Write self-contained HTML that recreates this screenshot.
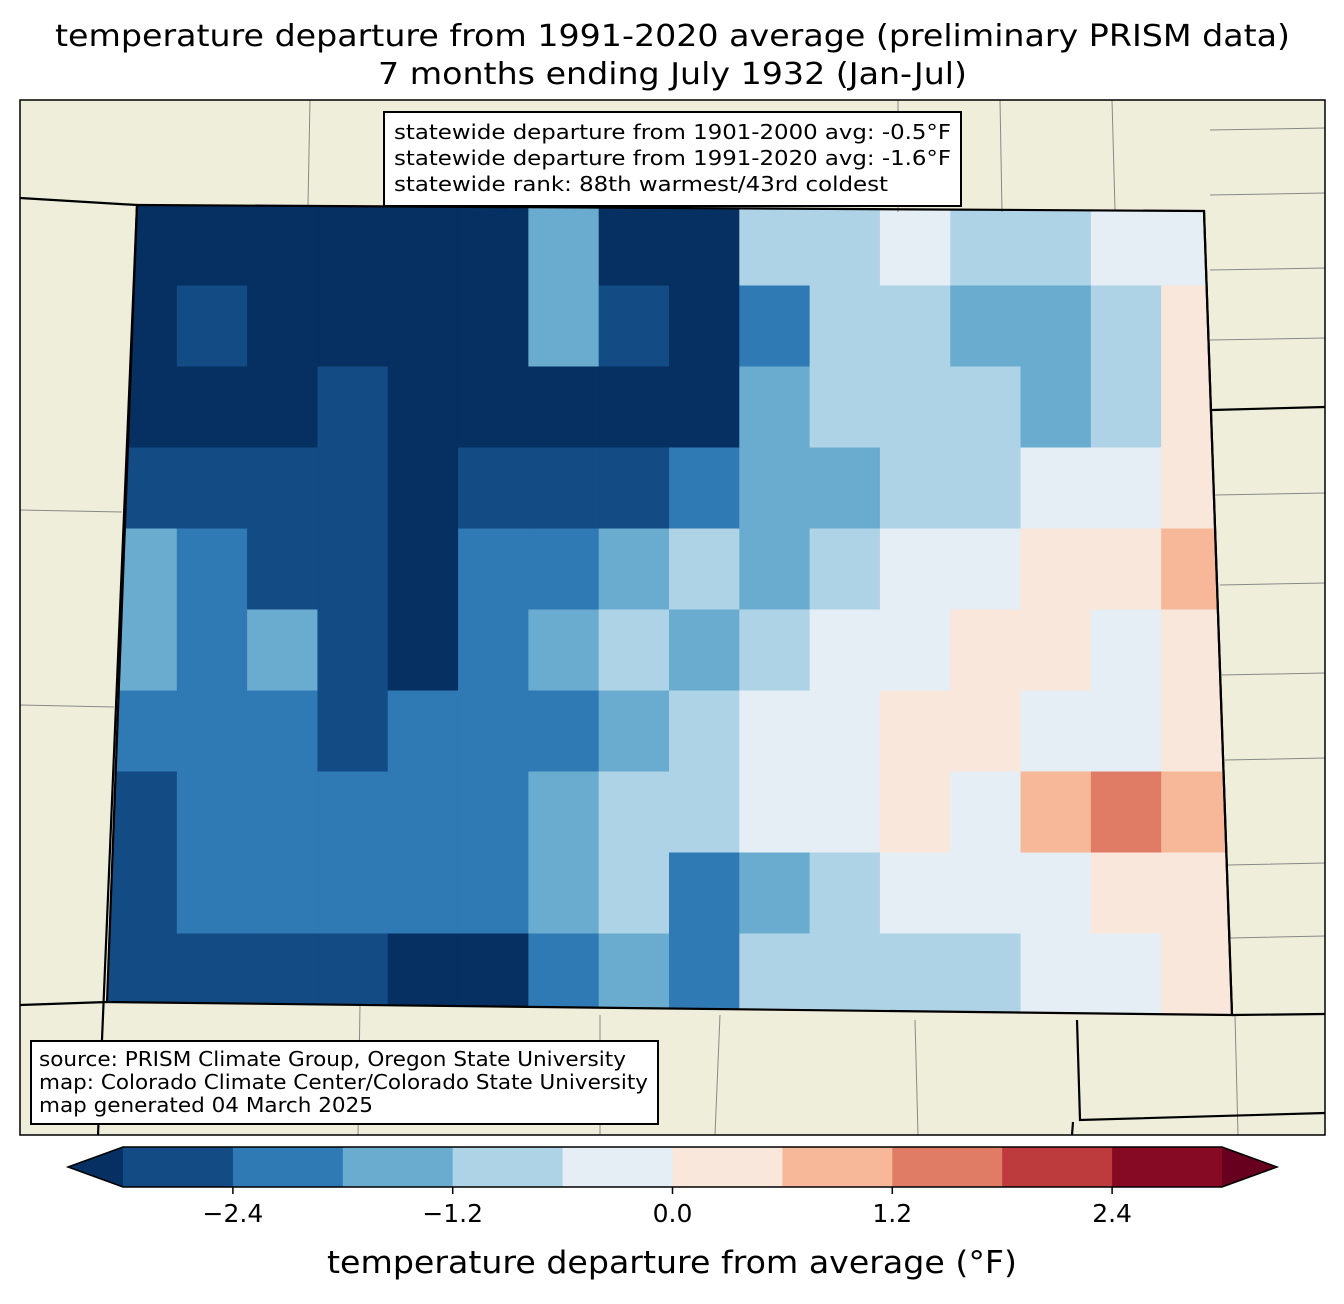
<!DOCTYPE html>
<html><head><meta charset="utf-8"><style>
html,body{margin:0;padding:0;background:#fff;}
body{width:1344px;height:1299px;overflow:hidden;font-family:"Liberation Sans","DejaVu Sans",sans-serif;}
</style></head><body>
<svg id="chart" width="1344" height="1299" xmlns="http://www.w3.org/2000/svg" font-family="DejaVu Sans, Liberation Sans, sans-serif">
<text x="55" y="46" font-size="30" textLength="1235" lengthAdjust="spacingAndGlyphs">temperature departure from 1991-2020 average (preliminary PRISM data)</text>
<text x="378" y="84" font-size="30" textLength="589" lengthAdjust="spacingAndGlyphs">7 months ending July 1932 (Jan-Jul)</text>
<defs><clipPath id="co"><polygon points="137,205 1204,211 1232,1015 107,1002"/></clipPath>
<clipPath id="frame"><rect x="20" y="100" width="1305" height="1035"/></clipPath></defs>
<rect x="20" y="100" width="1305" height="1035" fill="#efeedb"/>
<g id="cells" clip-path="url(#co)"></g>
<g clip-path="url(#frame)" stroke="#888" stroke-width="1" fill="none">
<path d="M20,510 L122,512 M20,705 L114,707 M310,100 L308,205 M898,100 L898,212 M1000,100 L1002,212 M1112,100 L1115,210 M1210,130 L1325,128 M1210,195 L1325,193 M1210,270 L1325,268 M1210,340 L1325,338 M1215,495 L1325,493 M1220,585 L1325,583 M1222,675 L1325,673 M1225,760 L1325,758 M1228,865 L1325,863 M1230,938 L1325,936 M360,1005 L358,1135 M600,1015 L600,1135 M915,1020 L918,1135 M1235,1015 L1238,1135 M720,1015 L715,1135"/>
</g>
<g clip-path="url(#frame)" stroke="#000" stroke-width="2.2" fill="none">
<path d="M20,198 L137,205 M107,1002 L20,1005 M137,205 L98,1135 M1204,211 L1232,1015 M1212,410 L1325,407 M1232,1015 L1325,1014 M1077,1020 L1080,1120 L1325,1113 M1073,1122 L1072,1135"/>
<polygon points="137,205 1204,211 1232,1015 107,1002"/>
</g>
<rect x="20" y="100" width="1305" height="1035" fill="none" stroke="#000" stroke-width="1.5"/>
<g>
<rect x="384" y="112" width="577" height="94" fill="#fff" stroke="#000" stroke-width="2"/>
<text x="394" y="139" font-size="20" textLength="557" lengthAdjust="spacingAndGlyphs">statewide departure from 1901-2000 avg: -0.5°F</text>
<text x="394" y="165" font-size="20" textLength="557" lengthAdjust="spacingAndGlyphs">statewide departure from 1991-2020 avg: -1.6°F</text>
<text x="394" y="191" font-size="20" textLength="494" lengthAdjust="spacingAndGlyphs">statewide rank: 88th warmest/43rd coldest</text>
</g>
<g>
<rect x="31" y="1041" width="627" height="83" fill="#fff" stroke="#000" stroke-width="2"/>
<text x="39" y="1066" font-size="20" textLength="587" lengthAdjust="spacingAndGlyphs">source: PRISM Climate Group, Oregon State University</text>
<text x="39" y="1089" font-size="20" textLength="609" lengthAdjust="spacingAndGlyphs">map: Colorado Climate Center/Colorado State University</text>
<text x="39" y="1112" font-size="20" textLength="334" lengthAdjust="spacingAndGlyphs">map generated 04 March 2025</text>
</g>
<g id="cbar"></g>
<text x="327" y="1273" font-size="31" textLength="690" lengthAdjust="spacingAndGlyphs">temperature departure from average (°F)</text>
</svg>
<script>
const levels=[-3,-2.4,-1.8,-1.2,-0.6,0,0.6,1.2,1.8,2.4,3];
const binColors=["#134b85","#2f79b5","#6aacd0","#afd3e6","#e4eef4","#fae7dc","#f7b799","#e07b65","#bd3a3d","#870a24"];
const extendColors=["#053061","#67001f"];
const tickValues=[-2.4,-1.2,0,1.2,2.4];
const tickLabels=["−2.4","−1.2","0.0","1.2","2.4"];
const gridRows=[
[-3.2,-3.2,-3.2,-3.2,-3.2,-3.2,-1.5,-3.2,-3.2,-0.9,-0.9,-0.3,-0.9,-0.9,-0.3,-0.3],
[-3.2,-2.7,-3.2,-3.2,-3.2,-3.2,-1.5,-2.7,-3.2,-2.1,-0.9,-0.9,-1.5,-1.5,-0.9,0.3],
[-3.2,-3.2,-3.2,-2.7,-3.2,-3.2,-3.2,-3.2,-3.2,-1.5,-0.9,-0.9,-0.9,-1.5,-0.9,0.3],
[-2.7,-2.7,-2.7,-2.7,-3.2,-2.7,-2.7,-2.7,-2.1,-1.5,-1.5,-0.9,-0.9,-0.3,-0.3,0.3],
[-1.5,-2.1,-2.7,-2.7,-3.2,-2.1,-2.1,-1.5,-0.9,-1.5,-0.9,-0.3,-0.3,0.3,0.3,0.9],
[-1.5,-2.1,-1.5,-2.7,-3.2,-2.1,-1.5,-0.9,-1.5,-0.9,-0.3,-0.3,0.3,0.3,-0.3,0.3],
[-2.1,-2.1,-2.1,-2.7,-2.1,-2.1,-2.1,-1.5,-0.9,-0.3,-0.3,0.3,0.3,-0.3,-0.3,0.3],
[-2.7,-2.1,-2.1,-2.1,-2.1,-2.1,-1.5,-0.9,-0.9,-0.3,-0.3,0.3,-0.3,0.9,1.5,0.9],
[-2.7,-2.1,-2.1,-2.1,-2.1,-2.1,-1.5,-0.9,-2.1,-1.5,-0.9,-0.3,-0.3,-0.3,0.3,0.3],
[-2.7,-2.7,-2.7,-2.7,-3.2,-3.2,-2.1,-1.5,-2.1,-0.9,-0.9,-0.9,-0.9,-0.3,-0.3,0.3]
];
const NS="http://www.w3.org/2000/svg";
function colorFor(v){
  if(v<levels[0]) return extendColors[0];
  if(v>=levels[levels.length-1]) return extendColors[1];
  for(let i=0;i<binColors.length;i++){ if(v<levels[i+1]) return binColors[i]; }
  return extendColors[1];
}
const gx0=107,gx1=1232,gy0=205,gy1=1015;
const cw=(gx1-gx0)/gridRows[0].length, ch=(gy1-gy0)/gridRows.length;
const cells=document.getElementById('cells');
gridRows.forEach((row,r)=>row.forEach((v,c)=>{
  const el=document.createElementNS(NS,'rect');
  
  
  el.setAttribute('x',gx0+c*cw-0.5);el.setAttribute('y',gy0+r*ch-0.5);
  el.setAttribute('width',cw+1);el.setAttribute('height',ch+1);
  el.setAttribute('fill',colorFor(v));
  cells.appendChild(el);
}));
const cbX0=123,cbX1=1222,cbY=1147,cbH=40;
const xs=v=>cbX0+(v-levels[0])/(levels[levels.length-1]-levels[0])*(cbX1-cbX0);
const cb=document.getElementById('cbar');
binColors.forEach((col,i)=>{
  const el=document.createElementNS(NS,'rect');
  
  
  el.setAttribute('x',xs(levels[i]));el.setAttribute('y',cbY);
  el.setAttribute('width',xs(levels[i+1])-xs(levels[i])+0.5);el.setAttribute('height',cbH);
  el.setAttribute('fill',col);cb.appendChild(el);
});
const lt=document.createElementNS(NS,'polygon');


lt.setAttribute('points',`${cbX0},${cbY} 68,${cbY+cbH/2} ${cbX0},${cbY+cbH}`);lt.setAttribute('fill',extendColors[0]);cb.appendChild(lt);
const rt=document.createElementNS(NS,'polygon');


rt.setAttribute('points',`${cbX1},${cbY} 1277,${cbY+cbH/2} ${cbX1},${cbY+cbH}`);rt.setAttribute('fill',extendColors[1]);cb.appendChild(rt);
const ol=document.createElementNS(NS,'polygon');
ol.setAttribute('points',`68,${cbY+cbH/2} ${cbX0},${cbY} ${cbX1},${cbY} 1277,${cbY+cbH/2} ${cbX1},${cbY+cbH} ${cbX0},${cbY+cbH}`);
ol.setAttribute('fill','none');ol.setAttribute('stroke','#000');ol.setAttribute('stroke-width','1.5');cb.appendChild(ol);
tickValues.forEach((v,i)=>{
  const t=document.createElementNS(NS,'line');
  
  
  t.setAttribute('x1',xs(v));t.setAttribute('x2',xs(v));t.setAttribute('y1',cbY+cbH);t.setAttribute('y2',cbY+cbH+7);
  t.setAttribute('stroke','#000');t.setAttribute('stroke-width','1.5');cb.appendChild(t);
  const tx=document.createElementNS(NS,'text');
  
  
  tx.setAttribute('x',xs(v));tx.setAttribute('y',cbY+cbH+35);tx.setAttribute('font-size','25');tx.setAttribute('text-anchor','middle');
  tx.textContent=tickLabels[i];cb.appendChild(tx);
});
</script>
</body></html>
